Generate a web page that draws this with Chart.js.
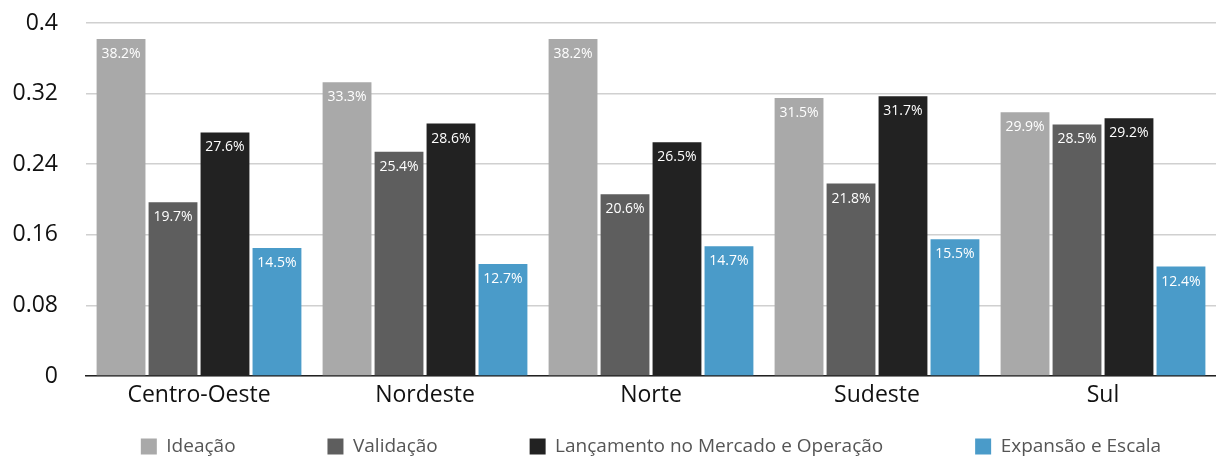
<!DOCTYPE html>
<html>
<head>
<meta charset="utf-8">
<script src="https://cdn.jsdelivr.net/npm/chart.js@4"></script>
<style>
  html, body { margin: 0; padding: 0; background: #fff; }
  #wrap { width: 1216px; height: 456px; }
</style>
</head>
<body>
<div id="wrap"><canvas id="stage_chart" width="1216" height="456"></canvas></div>
<script>
var regions = ["Centro-Oeste", "Nordeste", "Norte", "Sudeste", "Sul"];
var ideacao = [0.382, 0.333, 0.382, 0.315, 0.299];
var validacao = [0.197, 0.254, 0.206, 0.218, 0.285];
var lancamento = [0.276, 0.286, 0.265, 0.317, 0.292];
var expansao = [0.145, 0.127, 0.147, 0.155, 0.124];
var yTicks = [0, 0.08, 0.16, 0.24, 0.32, 0.4];

var fontFamily = "'Open Sans', 'Noto Sans', sans-serif";

// draws the percent label inside the top of each bar
var barLabels = {
    id: 'barLabels',
    afterDatasetsDraw: function(chart) {
        var ctx = chart.ctx;
        ctx.save();
        ctx.font = "14px " + fontFamily;
        ctx.fillStyle = "#ffffff";
        ctx.textAlign = "center";
        ctx.textBaseline = "top";
        chart.data.datasets.forEach(function(ds, i) {
            chart.getDatasetMeta(i).data.forEach(function(bar, j) {
                var txt = (ds.data[j] * 100).toFixed(1) + "%";
                ctx.fillText(txt, bar.x, bar.y + 8);
            });
        });
        ctx.restore();
    }
};

var ctx = document.getElementById('stage_chart');
var chart = new Chart(ctx, {
    type: 'bar',
    data: {
        labels: regions,
        datasets: [
            { label: "Ideação", data: ideacao, backgroundColor: "#a9a9a9" },
            { label: "Validação", data: validacao, backgroundColor: "#5e5e5e" },
            { label: "Lançamento no Mercado e Operação", data: lancamento, backgroundColor: "#222222" },
            { label: "Expansão e Escala", data: expansao, backgroundColor: "#4a9bc9" }
        ]
    },
    options: {
        responsive: false,
        animation: false,
        devicePixelRatio: 1,
        layout: { padding: { top: 0, right: 0, bottom: -10, left: 0 } },
        datasets: { bar: { categoryPercentage: 0.92, barPercentage: 0.94 } },
        scales: {
            x: {
                afterFit: function(scale) { scale.height = 53; },
                grid: { display: false, drawTicks: false },
                border: { display: true, color: "#222222", width: 1.5 },
                ticks: { color: "#111", font: { family: fontFamily, size: 23 }, padding: 6 }
            },
            y: {
                min: 0,
                max: 0.4,
                afterFit: function(scale) { scale.width = 86; scale.paddingTop = 23; },
                afterBuildTicks: function(scale) {
                    scale.ticks = yTicks.map(function(v) { return { value: v }; });
                },
                grid: { color: "#d0d0d0", lineWidth: 1.5, drawTicks: false },
                border: { display: false },
                ticks: {
                    color: "#111",
                    padding: 28,
                    font: { family: fontFamily, size: 23 },
                    callback: function(v) { return String(Number(v.toFixed(2))); }
                }
            }
        },
        plugins: {
            legend: {
                position: 'bottom',
                fullSize: false,
                labels: {
                    boxWidth: 16,
                    boxHeight: 16,
                    padding: 8,
                    color: "#555",
                    font: { family: fontFamily, size: 19 },
                    generateLabels: function(chart) {
                        var items = Chart.defaults.plugins.legend.labels.generateLabels(chart);
                        items.forEach(function(it, k) {
                            if (k < items.length - 1) it.text = it.text + "                 ";
                        });
                        return items;
                    }
                }
            },
            tooltip: { enabled: false }
        }
    },
    plugins: [barLabels]
});
</script>
</body>
</html>
